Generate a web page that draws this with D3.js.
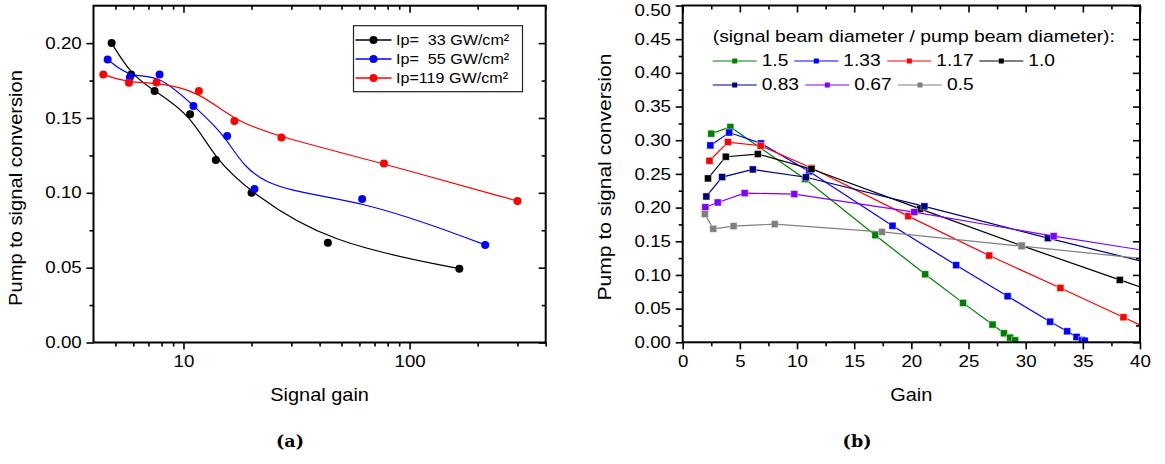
<!DOCTYPE html>
<html><head><meta charset="utf-8">
<script src="https://cdn.jsdelivr.net/npm/d3@7"></script>
<style>
body{margin:0;background:#fff;}
svg{display:block;font-family:"Liberation Sans",Arial,sans-serif;}
</style></head><body>
<svg id="c" width="1165" height="464"></svg>
<script>
// ---------- Panel (a) data ----------
const legendA = ["Ip=  33 GW/cm²", "Ip=  55 GW/cm²", "Ip=119 GW/cm²"];
const colorsA = ["#000000", "#0000ff", "#ff0000"];
const gain33 = [4.81, 5.87, 7.45, 10.7, 13.9, 20.0, 43.5, 166];
const conv33 = [0.200, 0.179, 0.168, 0.1525, 0.122, 0.100, 0.0666, 0.0493];
const gain55 = [4.62, 5.79, 7.84, 11.07, 15.6, 20.6, 61.7, 216];
const conv55 = [0.189, 0.177, 0.179, 0.158, 0.138, 0.1026, 0.0958, 0.0652];
const gain119 = [4.42, 5.74, 7.60, 11.7, 16.8, 27.1, 77, 300];
const conv119 = [0.179, 0.1735, 0.1737, 0.168, 0.148, 0.137, 0.1195, 0.0945];
const xTicksA = [10, 100];
const xMinorA = [5, 6, 7, 8, 9, 20, 30, 40, 50, 60, 70, 80, 90, 200, 300, 400];
const yTicksA = [0, 0.05, 0.10, 0.15, 0.20];
const yMinorA = [0.025, 0.075, 0.125, 0.175];

// ---------- Panel (b) data ----------
const legendTitleB = "(signal beam diameter / pump beam diameter):";
const legendB = ["1.5", "1.33", "1.17", "1.0", "0.83", "0.67", "0.5"];
const colorsB = ["#008000", "#0000ff", "#ff0000", "#000000", "#000080", "#8000ff", "#808080"];
const gB15 = [2.50, 4.17, 10.70, 16.85, 21.21, 24.52, 27.10, 28.10, 28.64, 29.08];
const cB15 = [0.3097, 0.3196, 0.2423, 0.159, 0.101, 0.0585, 0.0263, 0.0134, 0.0069, 0.003];
const gB133 = [2.42, 4.07, 6.85, 11.07, 18.35, 23.92, 28.42, 32.14, 33.63, 34.45, 34.92, 35.16];
const cB133 = [0.2923, 0.3114, 0.2953, 0.2537, 0.173, 0.1145, 0.0684, 0.0306, 0.0163, 0.0080, 0.0034, 0.0024];
const gB117 = [2.34, 3.96, 6.82, 11.28, 19.73, 26.81, 33.04, 38.55, 43.0];
const cB117 = [0.2695, 0.2973, 0.2918, 0.2587, 0.1873, 0.1288, 0.0807, 0.0372, 0.002];
const gB10 = [2.21, 3.77, 6.57, 11.26, 20.76, 29.65, 38.23, 45];
const cB10 = [0.2433, 0.2755, 0.2795, 0.2572, 0.198, 0.1435, 0.0926, 0.053];
const gB083 = [2.07, 3.45, 6.13, 10.78, 21.14, 31.94, 45];
const cB083 = [0.2165, 0.2453, 0.2566, 0.2450, 0.2018, 0.1546, 0.100];
const gB067 = [1.98, 3.06, 5.42, 9.76, 20.25, 32.45, 45];
const cB067 = [0.2005, 0.2076, 0.2215, 0.2200, 0.1933, 0.1576, 0.124];
const gB05 = [1.94, 2.67, 4.45, 8.05, 17.42, 29.65, 45];
const cB05 = [0.1903, 0.1685, 0.1725, 0.1754, 0.1638, 0.1427, 0.116];
const xTicksB = [0, 5, 10, 15, 20, 25, 30, 35, 40];
const xMinorB = [2.5, 7.5, 12.5, 17.5, 22.5, 27.5, 32.5, 37.5];
const yTicksB = [0, 0.05, 0.10, 0.15, 0.20, 0.25, 0.30, 0.35, 0.40, 0.45, 0.50];
const yMinorB = [0.025, 0.075, 0.125, 0.175, 0.225, 0.275, 0.325, 0.375, 0.425, 0.475];

const captions = ["(a)", "(b)"];

// ---------- helpers ----------
const svg = d3.select("#c");
const SX = 1.17; // horizontal stretch of the sans-serif text in the original

function zip(xs, ys) { return xs.map((x, i) => ({x: x, y: ys[i]})); }

function stretchText(g, sx) {
  g.selectAll("text").each(function () {
    const t = d3.select(this);
    const x = +t.attr("x") || 0;
    t.attr("x", x / sx).attr("transform", `scale(${sx},1)`);
  });
}

function label(x, y, str, o) {
  o = o || {};
  const t = svg.append("text")
    .attr("transform", `translate(${x},${y}) rotate(${o.rot || 0}) scale(${o.sx || SX},1)`)
    .attr("text-anchor", o.anchor || "start")
    .attr("font-size", o.size || 16)
    .attr("fill", "#000")
    .style("white-space", "pre")
    .attr("xml:space", "preserve")
    .text(str);
  if (o.family) t.attr("font-family", o.family);
  if (o.weight) t.attr("font-weight", o.weight);
  if (o.baseline) t.attr("dominant-baseline", o.baseline);
  return t;
}

function drawAxes(x, y, xt, xm, yt, ym, xfmt, yfmt, pad) {
  const [x0, x1] = x.range(), [y0, y1] = y.range();
  const styleAx = g => {
    g.select(".domain").remove();
    g.selectAll("line").attr("stroke", "#000").attr("stroke-width", 1.6);
    g.selectAll("text").attr("font-size", 16).attr("fill", "#000").attr("font-family", '"Liberation Sans",Arial,sans-serif');
  };
  // bottom
  svg.append("g").attr("transform", `translate(0,${y0})`)
    .call(d3.axisBottom(x).tickValues(xt).tickSize(7).tickPadding(pad.b).tickFormat(xfmt)).call(styleAx).call(g => stretchText(g, SX));
  svg.append("g").attr("transform", `translate(0,${y0})`)
    .call(d3.axisBottom(x).tickValues(xm).tickSize(4).tickFormat("")).call(styleAx);
  // top (inward)
  svg.append("g").attr("transform", `translate(0,${y1})`)
    .call(d3.axisTop(x).tickValues(xt).tickSize(-7).tickFormat("")).call(styleAx);
  svg.append("g").attr("transform", `translate(0,${y1})`)
    .call(d3.axisTop(x).tickValues(xm).tickSize(-4).tickFormat("")).call(styleAx);
  // left
  const gl = svg.append("g").attr("transform", `translate(${x0},0)`)
    .call(d3.axisLeft(y).tickValues(yt).tickSize(7).tickPadding(pad.l).tickFormat(yfmt)).call(styleAx).call(g => stretchText(g, SX));
  // keep the topmost label fully inside the picture
  gl.selectAll(".tick text").filter(d => y(d) < 9).attr("y", 4.5);
  svg.append("g").attr("transform", `translate(${x0},0)`)
    .call(d3.axisLeft(y).tickValues(ym).tickSize(4).tickFormat("")).call(styleAx);
  // right (inward)
  svg.append("g").attr("transform", `translate(${x1},0)`)
    .call(d3.axisRight(y).tickValues(yt).tickSize(-7).tickFormat("")).call(styleAx);
  svg.append("g").attr("transform", `translate(${x1},0)`)
    .call(d3.axisRight(y).tickValues(ym).tickSize(-4).tickFormat("")).call(styleAx);
  // frame
  svg.append("rect").attr("x", x0).attr("y", y1).attr("width", x1 - x0).attr("height", y0 - y1)
    .attr("fill", "none").attr("stroke", "#000").attr("stroke-width", 2);
}

// ---------- Panel (a) ----------
const xA = d3.scaleLog().domain([4, 400]).range([93.5, 545.7]);
const yA = d3.scaleLinear().domain([0, 0.225]).range([342.5, 5.7]);
const seriesA = [zip(gain33, conv33), zip(gain55, conv55), zip(gain119, conv119)];

const lineA = d3.line().x(d => xA(d.x)).y(d => yA(d.y)).curve(d3.curveBasis);
seriesA.forEach((s, i) => {
  const g = svg.append("g");
  g.append("path").datum(s).attr("d", lineA).attr("fill", "none")
    .attr("stroke", colorsA[i]).attr("stroke-width", 1.2);
  g.selectAll("circle").data(s).join("circle")
    .attr("cx", d => xA(d.x)).attr("cy", d => yA(d.y)).attr("r", 4).attr("fill", colorsA[i]);
});
drawAxes(xA, yA, xTicksA, xMinorA, yTicksA, yMinorA, d3.format("d"), d3.format(".2f"), {b: 6.5, l: 4.8});

// legend (a)
svg.append("rect").attr("x", 353.5).attr("y", 25.7).attr("width", 169).attr("height", 66)
  .attr("fill", "#fff").attr("stroke", "#222").attr("stroke-width", 1.2);
legendA.forEach((name, i) => {
  const yy = 40 + i * 19;
  svg.append("line").attr("x1", 355.5).attr("x2", 391.5).attr("y1", yy).attr("y2", yy)
    .attr("stroke", colorsA[i]).attr("stroke-width", 1.4);
  svg.append("circle").attr("cx", 373.5).attr("cy", yy).attr("r", 4).attr("fill", colorsA[i]);
  label(396, yy, name, {size: 15.5, sx: 1.04, baseline: "central"});
});

label(319.6, 401, "Signal gain", {anchor: "middle", size: 17.5, sx: 1.14});
label(21.5, 188, "Pump to signal conversion", {anchor: "middle", size: 17.5, sx: 1.15, rot: -90});

// ---------- Panel (b) ----------
const xB = d3.scaleLinear().domain([0, 40]).range([682.7, 1140]);
const yB = d3.scaleLinear().domain([0, 0.5]).range([342.3, 5.5]);
const seriesB = [zip(gB15, cB15), zip(gB133, cB133), zip(gB117, cB117), zip(gB10, cB10),
                 zip(gB083, cB083), zip(gB067, cB067), zip(gB05, cB05)];

svg.append("clipPath").attr("id", "clipB").append("rect")
  .attr("x", 682.7).attr("y", 5.5).attr("width", 1140 - 682.7).attr("height", 342.3 - 5.5);

const lineB = d3.line().x(d => xB(d.x)).y(d => yB(d.y));
const plotB = svg.append("g").attr("clip-path", "url(#clipB)");
seriesB.forEach((s, i) => {
  const g = plotB.append("g");
  g.append("path").datum(s).attr("d", lineB).attr("fill", "none")
    .attr("stroke", colorsB[i]).attr("stroke-width", 1.2);
  g.selectAll("rect").data(s).join("rect")
    .attr("x", d => xB(d.x) - 3.5).attr("y", d => yB(d.y) - 3.5)
    .attr("width", 7).attr("height", 7).attr("fill", colorsB[i])
    .attr("stroke", "#fff").attr("stroke-opacity", 0.5).attr("stroke-width", 0.8);
});
drawAxes(xB, yB, xTicksB, xMinorB, yTicksB, yMinorB, d3.format("d"), d3.format(".2f"), {b: 6.7, l: 4.7});

// legend (b)
label(712.7, 36.5, legendTitleB, {size: 16, sx: 1.21, baseline: "central"});
const legPosB = [[712.7, 61], [794.3, 61], [887.3, 61], [979.3, 61], [712.7, 85], [805.3, 85], [898, 85]];
legendB.forEach((name, i) => {
  const [lx, ly] = legPosB[i];
  svg.append("line").attr("x1", lx).attr("x2", lx + 44).attr("y1", ly).attr("y2", ly)
    .attr("stroke", colorsB[i]).attr("stroke-width", 1.2);
  svg.append("rect").attr("x", lx + 22 - 2.5).attr("y", ly - 2.5).attr("width", 5).attr("height", 5)
    .attr("fill", colorsB[i]);
  label(lx + 49, ly, name, {size: 16, sx: 1.2, baseline: "central"});
});

label(911.3, 401, "Gain", {anchor: "middle", size: 17.5, sx: 1.14});
label(610.5, 177, "Pump to signal conversion", {anchor: "middle", size: 18, sx: 1.17, rot: -90});

// captions
label(290, 441, captions[0], {anchor: "middle", size: 17.5, sx: 1, family: '"DejaVu Serif",serif', weight: "bold", baseline: "central"});
label(857, 441, captions[1], {anchor: "middle", size: 17.5, sx: 1, family: '"DejaVu Serif",serif', weight: "bold", baseline: "central"});
</script>
</body></html>
